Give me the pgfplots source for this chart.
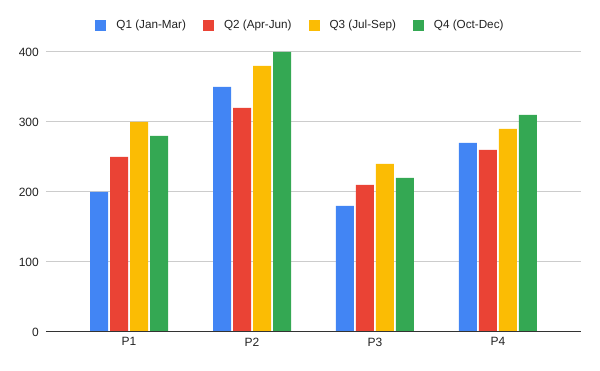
\documentclass[border=0pt]{standalone}
\usepackage{pgfplots}
\pgfplotsset{compat=1.18}
\usepackage{fontspec}
\setmainfont{Liberation Sans}
\definecolor{cQ1}{HTML}{4285F4}
\definecolor{cQ2}{HTML}{EA4335}
\definecolor{cQ3}{HTML}{FBBC04}
\definecolor{cQ4}{HTML}{34A853}
\definecolor{gridgray}{HTML}{CCCCCC}
\definecolor{txt}{HTML}{222222}
\definecolor{zeroline}{HTML}{333333}
\begin{document}
\begin{tikzpicture}
\begin{axis}[
  scale only axis, width=535pt, height=280pt,
  xmin=-0.675, xmax=3.675, ymin=0, ymax=400,
  xtick={0,1,2,3}, xticklabels={P1,P2,P3,P4},
  ytick={0,100,200,300,400},
  ymajorgrids, grid style={draw=gridgray, line width=1pt},
  major tick length=0pt,
  axis line style={draw=none},
  tick label style={font=\fontsize{12}{14}\selectfont, text=txt},
  /pgf/number format/assume math mode=true,
  yticklabel style={inner sep=0pt, xshift=-7pt},
  xticklabel style={inner sep=0pt, yshift=-5.5pt},
  legend columns=4,
  legend style={draw=none, fill=none, at={(0.4738,1.0964)}, anchor=center,
    font=\fontsize{11.7}{14}\selectfont, text=txt,
    nodes={inner sep=0pt},
    /tikz/every odd column/.append style={column sep=10pt},
    /tikz/every even column/.append style={column sep=17pt}},
  legend image code/.code={\fill[#1] (0pt,-5.5pt) rectangle (11pt,5.5pt);},
]
\addplot[ybar, bar width=18pt, bar shift=-30pt, fill=cQ1, draw=none] coordinates {(0,200) (1,350) (2,180) (3,270)};
\addplot[ybar, bar width=18pt, bar shift=-10pt, fill=cQ2, draw=none] coordinates {(0,250) (1,320) (2,210) (3,260)};
\addplot[ybar, bar width=18pt, bar shift=10pt, fill=cQ3, draw=none] coordinates {(0,300) (1,380) (2,240) (3,290)};
\addplot[ybar, bar width=18pt, bar shift=30pt, fill=cQ4, draw=none] coordinates {(0,280) (1,400) (2,220) (3,310)};
\legend{Q1 (Jan-Mar), Q2 (Apr-Jun), Q3 (Jul-Sep), Q4 (Oct-Dec)}
\draw[zeroline, line width=1.3pt] (rel axis cs:0,0) -- (rel axis cs:1,0);
\coordinate (o) at (rel axis cs:0,0);
\end{axis}
\path[use as bounding box] ([shift={(-46pt,-39pt)}]o) rectangle ([shift={(554pt,332pt)}]o);
\end{tikzpicture}
\end{document}
